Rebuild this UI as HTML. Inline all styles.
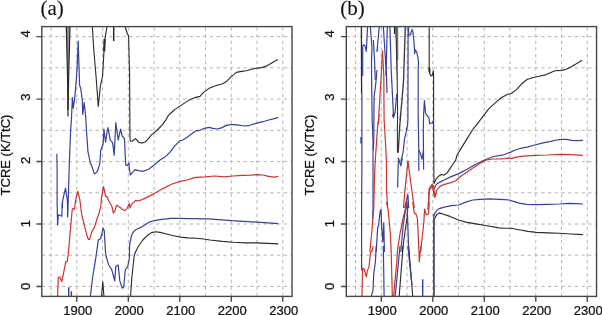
<!DOCTYPE html>
<html><head><meta charset="utf-8"><style>
html,body{margin:0;padding:0;background:#fff;}
svg{display:block;will-change:transform;}
.s{font-family:"Liberation Sans",sans-serif;font-size:13px;fill:#111;stroke:#111;stroke-width:0.25px;}
.t{font-family:"Liberation Serif",serif;font-size:21px;fill:#111;stroke:#111;stroke-width:0.1px;}
</style></head><body>
<svg width="602" height="315" viewBox="0 0 602 315">
<defs><clipPath id="c0"><rect x="41.8" y="26.6" width="250.25" height="269.8"/></clipPath><clipPath id="c1"><rect x="346.3" y="26.6" width="250.25" height="269.8"/></clipPath></defs>
<path d="M51.07 296.40V26.60M76.81 296.40V26.60M102.56 296.40V26.60M128.30 296.40V26.60M154.05 296.40V26.60M179.79 296.40V26.60M205.54 296.40V26.60M231.28 296.40V26.60M257.03 296.40V26.60M282.77 296.40V26.60" stroke="#b4b4b4" stroke-width="1" stroke-dasharray="3.32 3.32" fill="none"/>
<path d="M41.80 286.45H292.05M41.80 255.22H292.05M41.80 224.00H292.05M41.80 192.77H292.05M41.80 161.55H292.05M41.80 130.32H292.05M41.80 99.10H292.05M41.80 67.87H292.05M41.80 36.65H292.05" stroke="#b4b4b4" stroke-width="1" stroke-dasharray="3.36 3.36" fill="none"/>
<g clip-path="url(#c0)">
<path d="M66.40 26.00 L69.90 26.00 L68.30 95.00 L68.00 116.50Z" fill="#909090" stroke="none"/>
<path d="M66.30 26.00 L67.60 80.00 L68.00 116.50" stroke="#2a2a2a" stroke-width="1.2" fill="none" stroke-linejoin="round"/>
<path d="M70.00 26.00 L68.60 80.00 L68.10 110.00" stroke="#2a2a2a" stroke-width="1.2" fill="none" stroke-linejoin="round"/>
<path d="M92.30 26.00 L93.80 50.00 L96.00 76.00 L98.30 106.50 L100.40 85.90 L102.60 76.00 L103.90 52.50 L105.20 37.40 L107.10 26.00" stroke="#2a2a2a" stroke-width="1.12" fill="none" stroke-linejoin="round"/>
<path d="M104.60 39.00 L104.20 51.50" stroke="#2a2a2a" stroke-width="2.2" fill="none" stroke-linejoin="round"/>
<path d="M113.70 26.00 L113.70 41.00" stroke="#2a2a2a" stroke-width="1.5" fill="none" stroke-linejoin="round"/>
<path d="M124.80 26.00 L127.50 34.00 L128.60 36.00 L129.60 76.00 L130.00 139.40 L130.70 141.30 L132.10 141.30 L135.00 138.90 L136.40 139.40 L138.60 142.30 L142.10 143.10 L145.00 142.00 L147.90 139.40 L151.40 134.90 L155.00 132.00 L159.30 128.00 L162.90 124.10 L166.40 119.10 L168.60 115.10 L172.10 112.00 L174.30 109.90 L180.30 105.90 L189.40 99.90 L195.00 97.60 L200.00 96.40 L203.60 92.40 L208.60 88.60 L212.90 86.70 L217.10 85.30 L221.40 84.30 L225.70 82.10 L230.70 77.10 L236.40 72.40 L241.40 71.40 L246.40 70.70 L251.40 69.30 L257.10 68.10 L261.40 67.60 L265.70 66.40 L270.00 63.90 L274.30 61.40 L277.90 59.60" stroke="#2a2a2a" stroke-width="1.12" fill="none" stroke-linejoin="round"/>
<path d="M56.80 153.70 L57.10 166.00 L57.10 202.00 L57.60 225.00 L58.30 214.70 L60.30 215.50 L61.80 216.30 L62.30 202.00" stroke="#36419a" stroke-width="1.2" fill="none" stroke-linejoin="round"/>
<path d="M62.30 208.00 L62.60 200.90 L65.50 188.20 L67.40 200.90 L67.70 217.10 L68.20 202.00 L69.30 164.00 L70.60 131.50 L71.50 118.00 L72.40 97.50 L73.30 108.20 L74.70 98.00 L76.30 80.00 L77.00 70.00 L78.20 41.10 L79.30 76.00 L79.60 85.00 L80.80 88.90 L82.30 100.00 L82.70 114.50 L84.20 102.50 L85.80 118.00 L86.40 129.90 L88.00 152.10 L88.80 155.30 L90.40 164.00 L91.20 164.30 L92.80 169.10 L94.40 173.90 L96.80 172.30 L98.30 169.10 L99.90 162.80 L100.70 150.50 L103.10 144.20 L103.90 129.10 L105.50 141.80 L107.90 127.50 L110.30 140.20 L112.60 142.60 L114.20 155.30 L115.80 122.70 L118.20 140.20 L120.60 129.10 L122.20 136.20 L123.70 137.50 L124.50 139.40 L125.00 150.00 L125.70 165.00 L127.10 165.70 L128.90 162.90 L129.30 167.90 L130.30 175.00 L132.10 172.90 L135.00 169.70 L138.60 170.70 L142.90 171.40 L148.60 169.30 L154.30 165.00 L160.00 160.00 L165.70 156.40 L170.00 152.10 L175.00 145.70 L180.00 140.70 L182.90 140.00 L186.40 137.70 L192.10 133.40 L196.40 130.60 L200.00 130.30 L204.30 128.30 L209.30 127.40 L212.90 128.30 L217.10 129.00 L221.40 127.90 L226.40 125.40 L230.70 124.60 L234.30 124.70 L238.60 125.10 L244.30 126.00 L248.60 125.70 L252.90 124.30 L257.10 123.10 L262.90 121.70 L268.60 120.00 L274.30 118.60 L278.30 117.40" stroke="#36419a" stroke-width="1.2" fill="none" stroke-linejoin="round"/>
<path d="M57.60 296.00 L58.30 277.00 L59.80 277.00 L61.80 281.70 L63.40 273.80 L65.80 261.90 L67.40 261.10 L69.00 246.00 L70.60 227.40 L72.20 209.90 L73.00 208.30 L74.50 209.10 L75.30 202.00 L77.70 191.30 L79.80 199.30 L81.70 214.70 L84.10 224.20 L86.40 233.70 L88.30 239.30 L89.60 239.30 L92.00 231.40 L94.40 227.40 L96.80 219.50 L99.10 213.10 L100.70 206.80 L101.50 197.70 L103.60 186.60 L105.50 196.10 L107.10 196.90 L109.50 202.40 L111.80 206.00 L113.40 213.10 L115.00 210.70 L116.60 205.20 L119.00 206.80 L121.40 208.30 L122.10 209.30 L125.00 210.70 L127.10 208.60 L129.30 203.60 L130.00 207.90 L132.10 203.60 L135.70 200.40 L138.60 201.00 L144.30 198.60 L154.30 193.60 L162.90 188.60 L171.40 184.30 L180.00 181.40 L187.10 180.00 L194.30 177.60 L200.00 177.20 L205.70 176.90 L214.30 176.00 L224.30 176.90 L232.90 176.00 L242.90 175.40 L251.40 175.10 L257.10 174.60 L262.90 175.00 L268.60 176.40 L274.30 177.10 L278.30 176.40" stroke="#c93431" stroke-width="1.2" fill="none" stroke-linejoin="round"/>
<path d="M68.70 287.30 L68.70 296.00" stroke="#36419a" stroke-width="1.4" fill="none" stroke-linejoin="round"/>
<path d="M71.40 291.20 L71.40 296.00" stroke="#36419a" stroke-width="1.4" fill="none" stroke-linejoin="round"/>
<path d="M90.40 296.00 L92.80 276.20 L95.20 261.90 L96.80 250.80 L98.30 240.10 L100.70 238.50 L103.10 228.20 L104.20 230.60 L105.50 252.00 L106.30 257.10 L108.70 265.00 L111.80 269.80 L114.70 280.90 L115.80 266.60 L118.20 265.00 L119.80 280.90 L122.20 288.10 L123.70 287.30 L125.30 269.80 L127.70 266.60 L129.30 258.70 L129.60 246.00 L130.00 242.90 L131.40 235.70 L133.60 231.40 L136.40 229.30 L139.30 228.30 L143.60 225.70 L149.30 222.10 L155.00 220.30 L162.10 219.30 L170.70 218.30 L179.30 218.30 L187.90 218.60 L196.40 218.60 L200.00 218.90 L208.60 218.90 L231.40 220.70 L257.10 222.10 L278.30 223.60" stroke="#36419a" stroke-width="1.2" fill="none" stroke-linejoin="round"/>
<path d="M101.50 296.00 L102.80 281.70 L103.90 296.00" stroke="#2a2a2a" stroke-width="1.12" fill="none" stroke-linejoin="round"/>
<path d="M130.60 296.00 L131.80 277.70 L134.30 255.00 L136.40 250.00 L139.30 245.00 L142.90 240.00 L147.10 235.70 L151.40 232.60 L155.70 231.70 L160.00 232.40 L166.40 234.00 L173.60 235.70 L180.70 237.10 L187.90 237.90 L196.40 238.30 L203.60 239.00 L210.00 240.00 L222.10 241.40 L233.60 242.30 L245.00 242.90 L256.40 242.90 L267.90 243.40 L278.30 243.90" stroke="#2a2a2a" stroke-width="1.12" fill="none" stroke-linejoin="round"/>
</g>
<rect x="41.80" y="26.60" width="250.25" height="269.80" stroke="#474747" stroke-width="1.4" fill="none"/>
<path d="M76.81 296.40V301.80M128.30 296.40V301.80M179.79 296.40V301.80M231.28 296.40V301.80M282.77 296.40V301.80M41.80 286.45H36.40M41.80 224.00H36.40M41.80 161.55H36.40M41.80 99.10H36.40M41.80 36.65H36.40" stroke="#474747" stroke-width="1.4" fill="none"/>
<text x="77.81" y="314.6" text-anchor="middle" class="s">1900</text>
<text x="129.30" y="314.6" text-anchor="middle" class="s">2000</text>
<text x="180.79" y="314.6" text-anchor="middle" class="s">2100</text>
<text x="232.28" y="314.6" text-anchor="middle" class="s">2200</text>
<text x="283.77" y="314.6" text-anchor="middle" class="s">2300</text>
<text transform="translate(30.00 286.40) rotate(-90)" text-anchor="middle" class="s">0</text>
<text transform="translate(30.00 223.60) rotate(-90)" text-anchor="middle" class="s">1</text>
<text transform="translate(30.00 160.30) rotate(-90)" text-anchor="middle" class="s">2</text>
<text transform="translate(30.00 97.20) rotate(-90)" text-anchor="middle" class="s">3</text>
<text transform="translate(30.00 34.00) rotate(-90)" text-anchor="middle" class="s">4</text>
<text transform="translate(9.90 155.0) rotate(-90)" text-anchor="middle" class="s">TCRE (K/TtC)</text>
<path d="M355.57 296.40V26.60M381.31 296.40V26.60M407.06 296.40V26.60M432.80 296.40V26.60M458.55 296.40V26.60M484.29 296.40V26.60M510.04 296.40V26.60M535.78 296.40V26.60M561.53 296.40V26.60M587.27 296.40V26.60" stroke="#b4b4b4" stroke-width="1" stroke-dasharray="3.32 3.32" fill="none"/>
<path d="M346.30 286.45H596.55M346.30 255.22H596.55M346.30 224.00H596.55M346.30 192.77H596.55M346.30 161.55H596.55M346.30 130.32H596.55M346.30 99.10H596.55M346.30 67.87H596.55M346.30 36.65H596.55" stroke="#b4b4b4" stroke-width="1" stroke-dasharray="3.36 3.36" fill="none"/>
<g clip-path="url(#c1)">
<path d="M361.40 26.00 L361.60 93.80" stroke="#2a2a2a" stroke-width="1.3" fill="none" stroke-linejoin="round"/>
<path d="M394.60 26.00 L394.60 34.00" stroke="#2a2a2a" stroke-width="1.4" fill="none" stroke-linejoin="round"/>
<path d="M395.60 26.00 L397.90 26.00 L397.90 60.00 L397.50 80.00 L396.90 80.00 L396.50 60.00Z" fill="#8c8c8c" stroke="none"/>
<path d="M395.80 26.00 L396.70 60.00 L397.20 80.00 L397.60 114.00 L397.40 130.00 L397.40 152.80" stroke="#333" stroke-width="1.1" fill="none" stroke-linejoin="round"/>
<path d="M397.70 26.00 L397.80 60.00" stroke="#555" stroke-width="0.8" fill="none" stroke-linejoin="round"/>
<path d="M405.30 26.00 L404.20 60.00 L403.60 80.00 L402.00 100.00 L400.80 112.90 L400.00 120.00 L400.80 114.00 L399.80 125.00 L398.20 152.80" stroke="#3a3a3a" stroke-width="1.35" fill="none" stroke-linejoin="round"/>
<path d="M429.30 67.60 L429.50 72.20" stroke="#2a2a2a" stroke-width="1.9" fill="none" stroke-linejoin="round"/>
<path d="M429.20 26.00 L429.20 67.60 L429.60 72.50 L430.40 75.40 L431.00 76.00 L432.20 75.20 L433.40 71.00 L433.60 76.00 L433.60 120.00 L433.80 164.00 L434.00 183.60 L436.40 178.60 L439.30 175.70 L441.40 174.60 L444.30 175.00 L447.10 172.90 L450.00 168.60 L452.90 164.30 L455.70 160.00 L457.10 155.00 L461.40 147.90 L467.10 138.60 L472.90 129.30 L478.60 122.10 L483.60 115.70 L488.50 109.20 L495.50 102.60 L501.60 97.50 L507.70 94.30 L511.20 93.50 L516.50 89.60 L521.70 83.80 L527.00 79.50 L532.20 77.70 L539.20 76.30 L546.20 74.60 L554.90 70.70 L561.90 70.40 L566.30 69.30 L570.70 66.90 L575.90 64.10 L582.00 60.20" stroke="#2a2a2a" stroke-width="1.12" fill="none" stroke-linejoin="round"/>
<path d="M402.30 252.00 L404.70 233.70 L407.10 217.90 L407.90 205.20" stroke="#2a2a2a" stroke-width="1.12" fill="none" stroke-linejoin="round"/>
<path d="M399.20 296.00 L403.10 246.00" stroke="#2a2a2a" stroke-width="1.12" fill="none" stroke-linejoin="round"/>
<path d="M408.70 246.00 L412.70 296.00" stroke="#2a2a2a" stroke-width="1.12" fill="none" stroke-linejoin="round"/>
<path d="M434.00 296.00 L434.00 220.00 L436.40 215.00 L439.30 212.90 L442.90 214.00 L450.00 216.40 L458.60 220.00 L465.70 222.10 L475.70 223.90 L487.10 225.70 L498.60 227.90 L505.00 228.30 L510.70 228.30 L519.30 229.70 L527.90 231.40 L536.40 232.40 L547.90 232.90 L559.30 233.30 L570.70 234.00 L582.90 234.60" stroke="#2a2a2a" stroke-width="1.12" fill="none" stroke-linejoin="round"/>
<path d="M361.90 93.80 L361.90 164.00 L361.60 208.00 L361.60 270.60" stroke="#36419a" stroke-width="1.2" fill="none" stroke-linejoin="round"/>
<path d="M361.10 137.00 L361.10 143.40" stroke="#36419a" stroke-width="1.6" fill="none" stroke-linejoin="round"/>
<path d="M362.70 76.00 L362.70 46.60 L363.50 44.70 L365.00 45.80 L366.30 51.40 L366.50 48.00 L367.60 26.00" stroke="#36419a" stroke-width="1.2" fill="none" stroke-linejoin="round"/>
<path d="M370.30 26.00 L372.00 48.00 L371.50 60.00 L371.60 80.00 L372.20 120.00 L373.00 139.40 L373.00 208.00 L372.70 219.50" stroke="#36419a" stroke-width="1.2" fill="none" stroke-linejoin="round"/>
<path d="M373.40 40.00 L374.50 60.00 L375.30 80.00" stroke="#36419a" stroke-width="1.2" fill="none" stroke-linejoin="round"/>
<path d="M377.00 70.00 L376.20 79.50 L375.00 90.00 L374.10 96.40 L373.90 120.00 L373.80 139.40 L373.20 150.00" stroke="#36419a" stroke-width="1.2" fill="none" stroke-linejoin="round"/>
<path d="M379.30 26.00 L377.00 51.40 L377.40 49.00 L378.00 50.00" stroke="#36419a" stroke-width="1.2" fill="none" stroke-linejoin="round"/>
<path d="M383.30 26.00 L386.50 76.00 L387.00 93.00" stroke="#36419a" stroke-width="1.2" fill="none" stroke-linejoin="round"/>
<path d="M387.30 26.00 L386.00 76.00" stroke="#36419a" stroke-width="1.2" fill="none" stroke-linejoin="round"/>
<path d="M389.90 26.00 L391.20 70.00 L393.60 117.60 L395.20 111.30 L396.80 93.80" stroke="#36419a" stroke-width="1.2" fill="none" stroke-linejoin="round"/>
<path d="M392.80 114.00 L392.80 117.00" stroke="#36419a" stroke-width="1.2" fill="none" stroke-linejoin="round"/>
<path d="M407.10 128.30 L404.70 137.80 L403.10 152.10 L400.80 161.60" stroke="#36419a" stroke-width="1.2" fill="none" stroke-linejoin="round"/>
<path d="M397.60 187.40 L398.40 158.00 L400.80 165.90 L402.30 158.00" stroke="#36419a" stroke-width="1.2" fill="none" stroke-linejoin="round"/>
<path d="M408.10 26.00 L407.90 120.00 L407.50 126.00 L406.50 128.50 L405.80 129.50" stroke="#36419a" stroke-width="1.2" fill="none" stroke-linejoin="round"/>
<path d="M408.30 26.00 L408.90 35.20 L410.50 34.60 L412.10 29.50 L412.80 31.40 L414.00 42.20 L414.70 53.60 L415.30 49.80 L416.60 51.70 L417.80 56.80 L418.50 62.00 L418.20 70.00 L418.20 114.00 L418.80 150.00 L418.80 171.00" stroke="#36419a" stroke-width="1.2" fill="none" stroke-linejoin="round"/>
<path d="M418.80 150.00 L420.40 153.60 L422.00 159.10 L423.60 150.00" stroke="#36419a" stroke-width="1.2" fill="none" stroke-linejoin="round"/>
<path d="M423.60 169.40 L423.30 130.00 L423.60 115.00 L424.40 100.60 L425.60 113.30 L427.00 115.50 L428.00 116.50 L429.00 118.00 L429.60 123.70 L431.00 123.00 L432.50 122.90 L433.30 121.00" stroke="#36419a" stroke-width="1.2" fill="none" stroke-linejoin="round"/>
<path d="M404.70 208.00 L407.90 194.50 L408.70 208.00" stroke="#36419a" stroke-width="1.2" fill="none" stroke-linejoin="round"/>
<path d="M376.20 252.00 L377.70 227.40 L378.50 225.80 L380.10 211.50 L381.00 209.50 L381.70 227.40 L382.80 241.70 L383.80 222.60 L384.40 252.00" stroke="#36419a" stroke-width="1.2" fill="none" stroke-linejoin="round"/>
<path d="M400.80 252.00 L403.10 225.80 L405.50 209.90 L407.10 202.00 L408.70 252.00 L407.90 246.00 L411.10 277.70 L412.00 285.00" stroke="#36419a" stroke-width="1.2" fill="none" stroke-linejoin="round"/>
<path d="M371.40 296.00 L373.00 290.40 L373.80 273.00 L375.40 261.90 L376.20 246.00" stroke="#36419a" stroke-width="1.2" fill="none" stroke-linejoin="round"/>
<path d="M383.30 246.00 L384.10 296.00" stroke="#36419a" stroke-width="1.2" fill="none" stroke-linejoin="round"/>
<path d="M395.20 296.00 L400.00 246.00" stroke="#36419a" stroke-width="1.2" fill="none" stroke-linejoin="round"/>
<path d="M422.70 279.30 L422.70 296.00" stroke="#36419a" stroke-width="1.4" fill="none" stroke-linejoin="round"/>
<path d="M433.80 296.00 L433.80 214.30 L434.00 215.70 L435.00 212.90 L437.10 210.00 L440.00 208.30 L444.30 207.10 L451.40 205.70 L458.60 205.00 L465.70 202.10 L472.90 200.00 L480.00 199.40 L490.00 198.90 L498.60 199.30 L505.00 199.70 L509.30 200.00 L513.60 201.40 L519.30 203.10 L526.40 204.30 L536.40 204.70 L547.90 204.30 L559.30 204.00 L569.30 203.40 L576.40 203.70 L582.90 204.00" stroke="#36419a" stroke-width="1.2" fill="none" stroke-linejoin="round"/>
<path d="M433.60 188.60 L434.30 188.60 L436.40 184.30 L440.00 182.10 L444.30 180.00 L450.00 177.10 L458.60 173.60 L467.10 169.30 L475.70 164.30 L484.30 160.00 L493.60 156.50 L502.10 155.20 L505.00 154.30 L510.70 152.10 L515.00 150.00 L520.70 148.30 L527.90 146.90 L535.00 145.00 L542.10 143.10 L550.70 141.40 L556.40 140.00 L561.40 139.30 L566.40 139.30 L572.10 140.30 L576.40 140.70 L582.90 140.30" stroke="#36419a" stroke-width="1.2" fill="none" stroke-linejoin="round"/>
<path d="M382.50 50.60 L381.20 76.00 L378.50 120.00 L377.70 125.10 L378.50 123.50 L379.30 114.00 L377.70 125.10 L375.40 158.40 L374.60 173.90 L373.80 208.00 L372.70 219.50" stroke="#c93431" stroke-width="1.2" fill="none" stroke-linejoin="round"/>
<path d="M382.50 50.60 L383.80 76.00 L384.10 120.00 L385.70 145.70 L386.50 164.00 L386.50 189.70 L387.60 208.00" stroke="#c93431" stroke-width="1.2" fill="none" stroke-linejoin="round"/>
<path d="M386.50 202.00 L388.10 209.90 L390.40 233.70 L391.20 252.00 L392.30 296.00" stroke="#c93431" stroke-width="1.2" fill="none" stroke-linejoin="round"/>
<path d="M369.80 252.00 L372.00 230.00 L372.70 219.50" stroke="#c93431" stroke-width="1.2" fill="none" stroke-linejoin="round"/>
<path d="M361.90 296.00 L362.70 268.20 L364.30 269.00 L366.30 277.00 L367.40 270.60 L369.00 266.60 L370.60 252.30 L372.20 250.80 L373.00 246.00" stroke="#c93431" stroke-width="1.2" fill="none" stroke-linejoin="round"/>
<path d="M408.70 161.60 L407.90 161.20 L404.70 192.90 L403.50 208.00" stroke="#c93431" stroke-width="1.2" fill="none" stroke-linejoin="round"/>
<path d="M407.90 161.20 L411.10 185.00 L414.30 208.00" stroke="#c93431" stroke-width="1.2" fill="none" stroke-linejoin="round"/>
<path d="M393.60 296.00 L396.80 261.90 L397.60 249.20 L400.00 233.70 L403.10 217.90 L406.30 205.20 L407.10 202.00" stroke="#c93431" stroke-width="1.2" fill="none" stroke-linejoin="round"/>
<path d="M412.70 202.00 L414.30 213.10 L415.80 213.90 L417.40 217.90 L419.00 252.00 L419.30 261.90 L420.30 250.80 L421.00 246.00" stroke="#c93431" stroke-width="1.2" fill="none" stroke-linejoin="round"/>
<path d="M420.60 252.00 L423.80 222.60 L424.60 209.10 L426.20 214.70 L428.50 213.90 L429.30 202.00 L428.50 208.00 L429.30 189.70 L430.90 188.20 L432.50 185.00 L433.50 186.00 L435.00 197.10 L436.40 190.70 L440.00 186.40 L444.30 184.30 L450.00 182.90 L455.70 180.70 L461.40 175.70 L467.10 172.10 L472.90 167.90 L480.00 163.60 L486.40 160.00 L493.00 159.00 L500.00 158.90 L505.00 158.60 L509.30 157.90 L511.40 158.60 L515.00 157.40 L523.60 156.10 L535.00 155.40 L547.90 155.00 L560.70 154.30 L570.70 154.60 L582.90 155.40" stroke="#c93431" stroke-width="1.2" fill="none" stroke-linejoin="round"/>
<path d="M427.90 210.00 L429.30 188.60 L430.70 186.30 L432.10 184.30 L434.40 197.10 L436.40 192.90" stroke="#c93431" stroke-width="1.2" fill="none" stroke-linejoin="round"/>
</g>
<rect x="346.30" y="26.60" width="250.25" height="269.80" stroke="#474747" stroke-width="1.4" fill="none"/>
<path d="M381.31 296.40V301.80M432.80 296.40V301.80M484.29 296.40V301.80M535.78 296.40V301.80M587.27 296.40V301.80M346.30 286.45H340.90M346.30 224.00H340.90M346.30 161.55H340.90M346.30 99.10H340.90M346.30 36.65H340.90" stroke="#474747" stroke-width="1.4" fill="none"/>
<text x="382.31" y="314.6" text-anchor="middle" class="s">1900</text>
<text x="433.80" y="314.6" text-anchor="middle" class="s">2000</text>
<text x="485.29" y="314.6" text-anchor="middle" class="s">2100</text>
<text x="536.78" y="314.6" text-anchor="middle" class="s">2200</text>
<text x="588.27" y="314.6" text-anchor="middle" class="s">2300</text>
<text transform="translate(333.60 286.40) rotate(-90)" text-anchor="middle" class="s">0</text>
<text transform="translate(333.60 223.60) rotate(-90)" text-anchor="middle" class="s">1</text>
<text transform="translate(333.60 160.30) rotate(-90)" text-anchor="middle" class="s">2</text>
<text transform="translate(333.60 97.20) rotate(-90)" text-anchor="middle" class="s">3</text>
<text transform="translate(333.60 34.00) rotate(-90)" text-anchor="middle" class="s">4</text>
<text transform="translate(314.40 155.0) rotate(-90)" text-anchor="middle" class="s">TCRE (K/TtC)</text>
<text x="40.5" y="14.6" class="t">(a)</text>
<text x="340.2" y="14.6" class="t">(b)</text>
</svg>
</body></html>
